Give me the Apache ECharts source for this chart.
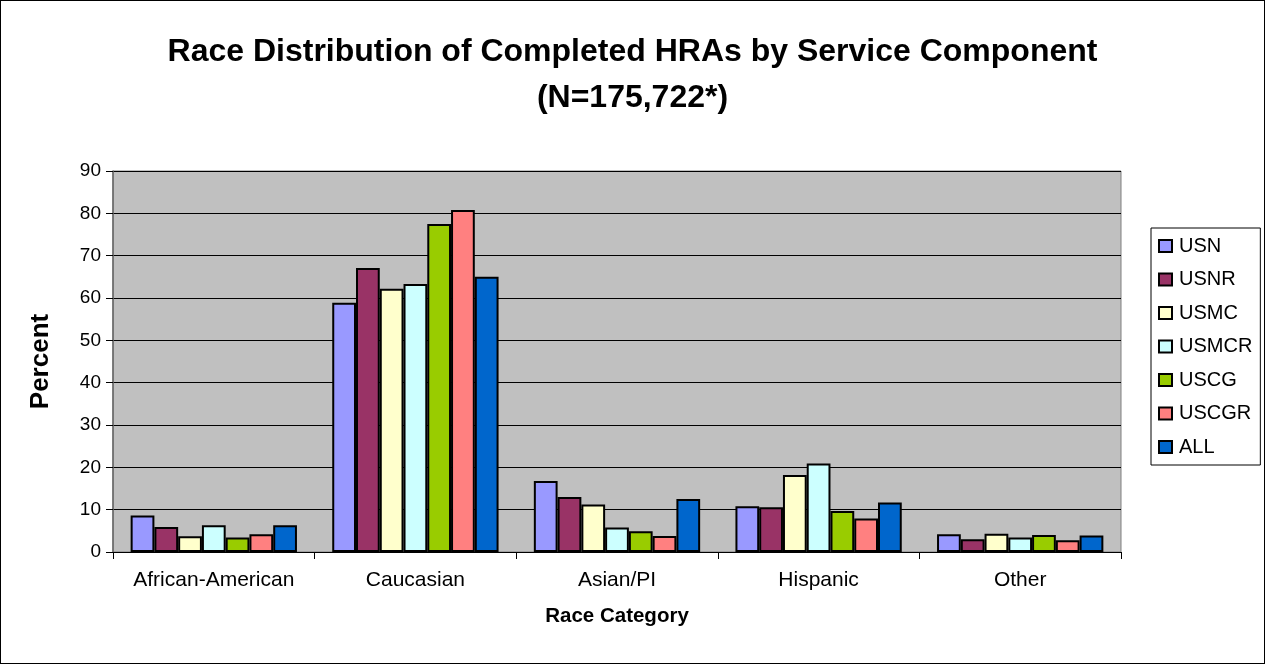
<!DOCTYPE html>
<html>
<head>
<meta charset="utf-8">
<script src="https://cdn.jsdelivr.net/npm/echarts@6/dist/echarts.min.js"></script>
<style>
  html, body { margin: 0; padding: 0; background: #fff; }
  #main { width: 1265px; height: 664px; box-sizing: border-box; border: 1px solid #000; }
</style>
</head>
<body>
<div id="main"></div>
<script>
var categories = ['African-American', 'Caucasian', 'Asian/PI', 'Hispanic', 'Other'];
var seriesNames = ['USN', 'USNR', 'USMC', 'USMCR', 'USCG', 'USCGR', 'ALL'];
var colors = ['#9999FF', '#993366', '#FFFFCC', '#CCFFFF', '#99CC00', '#FF8080', '#0066CC'];

// percent per race category, one array per service component
var usn   = [8.6, 58.9, 16.8, 10.8, 4.2];
var usnr  = [5.9, 67.1, 13.0, 10.6, 3.0];
var usmc  = [3.7, 62.2, 11.2, 18.2, 4.3];
var usmcr = [6.3, 63.3, 5.8, 20.9, 3.4];
var uscg  = [3.4, 77.5, 4.9, 9.7, 4.0];
var uscgr = [4.2, 80.8, 3.8, 7.9, 2.8];
var all   = [6.3, 65.0, 12.5, 11.7, 3.9];
var values = [usn, usnr, usmc, usmcr, uscg, uscgr, all];

var font = 'Arial, "Liberation Sans", sans-serif';
var myChart = echarts.init(document.getElementById('main'));

var series = seriesNames.map(function (name, i) {
    return {
        name: name,
        type: 'bar',
        data: values[i],
        barGap: '0%',
        barCategoryGap: '17.5%',
        itemStyle: { color: colors[i], borderColor: '#000', borderWidth: 2 }
    };
});

var option = {
    backgroundColor: '#fff',
    animation: false,
    title: {
        text: 'Race Distribution of Completed HRAs by Service Component\n(N=175,722*)',
        left: 'center',
        top: 23,
        textStyle: { fontFamily: font, fontSize: 32, fontWeight: 'bold', color: '#000', lineHeight: 46 }
    },
    legend: {
        orient: 'vertical',
        left: 1150,
        top: 227,
        width: 112,
        padding: [8, 8, 8, 7],
        itemWidth: 13,
        itemHeight: 12,
        itemGap: 13.5,
        icon: 'rect',
        borderColor: '#000',
        borderWidth: 1,
        backgroundColor: '#fff',
        itemStyle: { borderColor: '#000', borderWidth: 2 },
        textStyle: { fontFamily: font, fontSize: 20, color: '#000', lineHeight: 20, padding: [0, 0, 0, 2] },
        data: seriesNames
    },
    grid: { left: 112, right: 143, top: 170, bottom: 111, show: true, backgroundColor: '#C0C0C0', borderColor: '#808080', borderWidth: 1 },
    xAxis: {
        type: 'category',
        data: categories,
        name: 'Race Category',
        nameLocation: 'middle',
        nameGap: 54,
        nameTextStyle: { fontFamily: font, fontSize: 20.5, fontWeight: 'bold', color: '#000' },
        axisLine: { lineStyle: { color: '#000', width: 1 } },
        axisTick: { show: true, length: 7, lineStyle: { color: '#000' } },
        axisLabel: { interval: 0, fontFamily: font, fontSize: 21, color: '#000', margin: 18 }
    },
    yAxis: {
        type: 'value',
        min: 0,
        max: 90,
        interval: 10,
        name: 'Percent',
        nameLocation: 'middle',
        nameGap: 59,
        nameTextStyle: { fontFamily: font, fontSize: 26, fontWeight: 'bold', color: '#000' },
        axisLine: { show: true, lineStyle: { color: '#666', width: 1.5 } },
        axisTick: { show: true, length: 7, lineStyle: { color: '#000' } },
        axisLabel: { fontFamily: font, fontSize: 19, color: '#000', margin: 12 },
        splitLine: { lineStyle: { color: '#000', width: 1 } }
    },
    series: series
};
myChart.setOption(option);
</script>
</body>
</html>
